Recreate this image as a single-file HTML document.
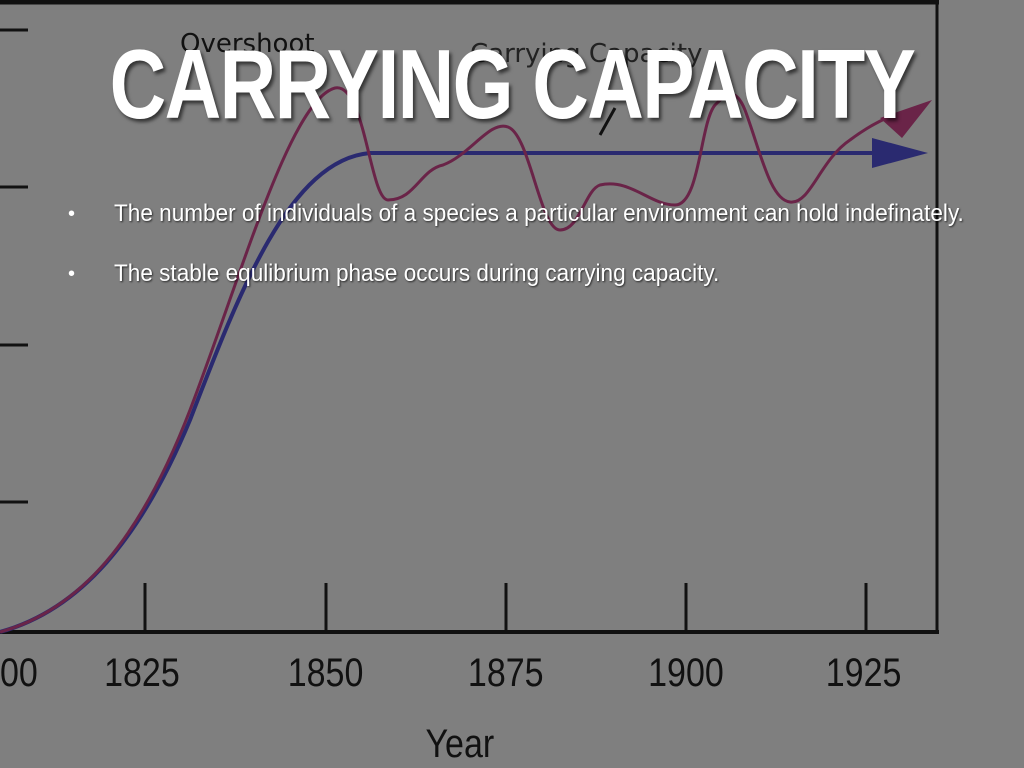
<!DOCTYPE html>
<html><head><meta charset="utf-8"><style>
html,body{margin:0;padding:0;width:1024px;height:768px;overflow:hidden;background:#7f7f7f;}
.t{position:absolute;left:0;width:1024px;top:28px;text-align:center;font-family:"Liberation Sans",sans-serif;font-weight:bold;font-size:98px;color:#fff;text-shadow:3px 3px 4px rgba(0,0,0,0.6);letter-spacing:-2px;}
.t span{display:inline-block;transform:scaleX(0.8);}
.b{position:absolute;left:114px;font-family:"Liberation Sans",sans-serif;font-size:24px;color:#fff;text-shadow:1px 1px 2px rgba(0,0,0,0.7);white-space:nowrap;transform:scaleX(0.94);transform-origin:0 0;}
.d{position:absolute;left:68px;font-family:"Liberation Sans",sans-serif;font-size:20px;color:#fff;}
</style></head><body>
<svg width="1024" height="768" style="position:absolute;left:0;top:0">
<g fill="none" stroke="#111" stroke-width="3">
<line x1="0" y1="2" x2="939" y2="2" stroke-width="5"/>
<line x1="937" y1="0" x2="937" y2="634"/>
<line x1="0" y1="632" x2="939" y2="632" stroke-width="4"/>
<line x1="0" y1="30" x2="28" y2="30"/><line x1="0" y1="187" x2="28" y2="187"/>
<line x1="0" y1="345" x2="28" y2="345"/><line x1="0" y1="502" x2="28" y2="502"/>
<line x1="145" y1="583" x2="145" y2="632"/><line x1="326" y1="583" x2="326" y2="632"/>
<line x1="506" y1="583" x2="506" y2="632"/><line x1="686" y1="583" x2="686" y2="632"/>
<line x1="866" y1="583" x2="866" y2="632"/>
<line x1="600" y1="135" x2="615" y2="108" stroke-width="3"/>
</g>
<g font-family="'DejaVu Sans','Liberation Sans',sans-serif" fill="#111" font-size="26">
<text x="180" y="52">Overshoot</text>
<text x="470" y="62" fill="#222">Carrying Capacity</text>
</g>
<g font-family="'Liberation Sans',sans-serif" fill="#111" font-size="40" text-anchor="middle">
<text x="0" y="686" transform="scale(0.85,1)">1800</text>
<text x="167" y="686" transform="scale(0.85,1)">1825</text>
<text x="383" y="686" transform="scale(0.85,1)">1850</text>
<text x="595" y="686" transform="scale(0.85,1)">1875</text>
<text x="807" y="686" transform="scale(0.85,1)">1900</text>
<text x="1016" y="686" transform="scale(0.85,1)">1925</text>
<text x="541" y="757" transform="scale(0.85,1)">Year</text>
</g>
<path d="M0,632 C80,610 140,540 190,420 C240,290 290,160 370,153 L880,153" stroke="#2a2a70" stroke-width="4" fill="none"/>
<polygon points="872,138 928,153 872,168" fill="#2a2a70"/>
<path d="M0,632 C80,610 140,540 190,410 C240,280 290,100 335,88 C365,82 370,200 388,200 C415,200 420,170 443,165 C470,155 490,120 508,127 C530,135 540,230 560,230 C580,230 585,190 600,185 C630,178 650,205 675,205 C700,205 700,123 715,105 C725,95 735,85 745,110 C760,150 770,200 790,202 C810,205 820,160 850,140 C870,125 890,115 905,112" stroke="#6a2448" stroke-width="3" fill="none"/>
<polygon points="880,118 932,100 902,138" fill="#6a2448"/>
</svg>
<div class="t"><span>CARRYING CAPACITY</span></div>
<div class="d" style="top:203px">•</div>
<div class="b" style="top:200px">The number of individuals of a species a particular environment can hold indefinately.</div>
<div class="d" style="top:263px">•</div>
<div class="b" style="top:260px">The stable equlibrium phase occurs during carrying capacity.</div>
</body></html>
